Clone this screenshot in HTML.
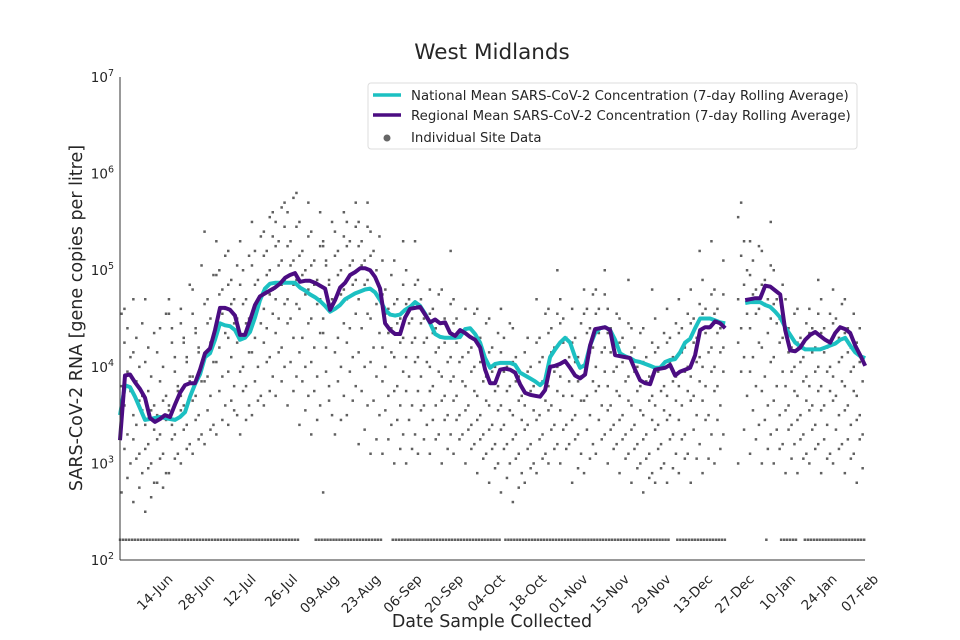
<!DOCTYPE html>
<html><head><meta charset="utf-8"><style>
html,body{margin:0;padding:0;background:#fff;}
svg{display:block;font-family:"DejaVu Sans","Liberation Sans",sans-serif;}
</style></head><body>
<svg id="chart" width="960" height="640" viewBox="0 0 960 640" xmlns="http://www.w3.org/2000/svg">
<rect width="960" height="640" fill="#fff"/>
<text x="492" y="59" text-anchor="middle" font-size="21.5" fill="#262626">West Midlands</text>
<text x="492" y="627" text-anchor="middle" font-size="17.5" fill="#262626">Date Sample Collected</text>
<text transform="translate(82,318) rotate(-90)" text-anchor="middle" font-size="17.5" fill="#262626">SARS-CoV-2 RNA [gene copies per litre]</text>
<g id="scatter"></g>
<g id="lines"></g>
<g id="axes"></g>
<g>
<rect x="368" y="83" width="489" height="66" rx="3" fill="#fff" fill-opacity="0.85" stroke="#ddd"/>
<line x1="373" y1="95" x2="401" y2="95" stroke="#1cc0c2" stroke-width="3.5"/>
<text x="411" y="100" font-size="13.3" fill="#262626">National Mean SARS-CoV-2 Concentration (7-day Rolling Average)</text>
<line x1="373" y1="115" x2="401" y2="115" stroke="#4b0c82" stroke-width="3.5"/>
<text x="411" y="120" font-size="13.3" fill="#262626">Regional Mean SARS-CoV-2 Concentration (7-day Rolling Average)</text>
<circle cx="387" cy="138" r="3.5" fill="#666"/>
<text x="411" y="142" font-size="13.3" fill="#262626">Individual Site Data</text>
</g>
</svg>
<script>
// ---- data ----
const tickLabels = ["14-Jun","28-Jun","12-Jul","26-Jul","09-Aug","23-Aug","06-Sep","20-Sep","04-Oct","18-Oct","01-Nov","15-Nov","29-Nov","13-Dec","27-Dec","10-Jan","24-Jan","07-Feb"];
const tickDays = [10,24,38,52,66,80,94,108,122,136,150,164,178,192,206,220,234,248];
const yTickExps = [2,3,4,5,6,7];
const sampleStart = 0;
const sampleStep = 1.687; // days between rolling-average samples
const regionalLog = [3.24,3.91,3.92,3.84,3.77,3.68,3.47,3.43,3.46,3.50,3.48,3.61,3.73,3.81,3.83,3.83,3.97,4.14,4.19,4.38,4.61,4.61,4.59,4.53,4.33,4.33,4.48,4.64,4.73,4.76,4.79,4.82,4.86,4.92,4.95,4.97,4.88,4.89,4.89,4.87,4.84,4.81,4.59,4.69,4.82,4.87,4.95,4.98,5.02,5.02,5.00,4.93,4.81,4.45,4.38,4.34,4.34,4.51,4.60,4.61,4.62,4.54,4.46,4.49,4.45,4.46,4.35,4.32,4.38,4.35,4.31,4.28,4.20,3.97,3.83,3.83,3.97,3.98,3.97,3.94,3.82,3.73,3.71,3.70,3.69,3.76,4.00,4.01,4.03,4.06,3.99,3.91,3.88,3.92,4.22,4.39,4.40,4.41,4.38,4.12,4.11,4.10,4.09,3.97,3.86,3.83,3.82,3.97,3.98,3.99,4.02,3.91,3.95,3.97,3.99,4.12,4.38,4.41,4.41,4.47,4.45,4.40,null,null,null,4.69,4.70,4.71,4.71,4.84,4.83,4.79,4.75,4.38,4.17,4.16,4.20,4.28,4.33,4.36,4.32,4.28,4.25,4.35,4.41,4.39,4.35,4.22,4.12,4.01];
const nationalLog = [3.50,3.81,3.79,3.69,3.57,3.45,3.46,3.47,3.48,3.47,3.46,3.45,3.48,3.53,3.69,3.82,3.92,4.10,4.14,4.28,4.45,4.43,4.42,4.38,4.28,4.30,4.36,4.51,4.69,4.81,4.86,4.87,4.87,4.87,4.87,4.87,4.82,4.79,4.75,4.72,4.68,4.63,4.57,4.60,4.64,4.70,4.73,4.76,4.78,4.80,4.81,4.77,4.69,4.59,4.54,4.53,4.54,4.59,4.62,4.67,4.63,4.55,4.45,4.34,4.31,4.30,4.30,4.30,4.31,4.39,4.40,4.34,4.25,4.09,3.99,4.03,4.04,4.04,4.04,4.02,3.94,3.91,3.88,3.85,3.81,3.86,4.10,4.18,4.25,4.30,4.25,4.10,3.99,4.02,4.22,4.35,4.40,4.41,4.38,4.28,4.14,4.11,4.09,4.06,4.05,4.03,4.01,3.99,3.99,4.05,4.07,4.08,4.15,4.25,4.29,4.40,4.50,4.50,4.50,4.48,4.46,4.45,null,null,null,4.66,4.67,4.67,4.67,4.64,4.62,4.57,4.51,4.41,4.33,4.25,4.21,4.18,4.18,4.18,4.18,4.20,4.22,4.24,4.28,4.30,4.22,4.15,4.11,4.09];
// individual site data: 4-day bins, values are log10 x 10
const siteBinStart = 0, siteBinDays = 4;
const siteBins = ["27 30 33 36 38 41 44 46","26 29 31 34 35 37 40 43 47","25 28 30 32 34 36 39 42 47","28 29 31 33 35 37 40 44","29 31 33 34 36 38 41 44 47","30 32 34 36 37 39 41 43 46","31 33 35 37 39 40 42 44 48","32 34 37 39 41 43 45 47 54","33 36 39 42 44 46 48 50 53","34 35 38 41 43 45 47 49 52","33 36 38 40 43 45 47 50 53","35 37 40 43 45 47 49 52 55","36 39 41 44 46 48 50 52 54 56","37 40 42 45 47 49 51 53 55 57","36 39 43 45 47 49 51 53 56 58","34 37 40 43 46 48 50 52 55 57","33 36 39 42 45 47 49 51 54 56","27 35 38 42 45 47 49 51 53 55","33 37 40 43 46 48 50 52 54 56","35 38 41 44 47 49 51 53 55 57","32 36 40 44 47 49 51 53 55 57","31 35 39 42 45 48 50 52 54","31 34 37 40 42 44 46 48 51","30 33 36 38 41 43 45 47 51 53","30 33 36 39 41 43 45 47 50 53","31 34 36 39 41 43 45 47 49","31 33 36 38 40 42 44 46 48","30 33 35 37 39 41 43 45 48 52","31 33 35 37 39 41 43 45 47","30 32 34 36 38 40 42 44 46","29 31 33 35 37 39 41 43 46","28 30 32 34 36 38 40 42 45","27 30 32 34 36 38 40 43 46","26 29 31 33 35 37 39 41 44","28 30 32 34 36 38 40 43","29 31 33 35 37 39 41 43 47","30 32 34 36 38 40 42 44 46 50","30 32 34 37 39 41 43 45 47","28 31 33 35 37 39 41 43 46","29 32 35 37 40 42 44 46 48","31 33 36 38 40 42 44 46 48 50","30 32 34 36 38 40 42 44 46","29 31 33 35 37 39 41 43 45 49","28 30 32 34 36 38 40 42 44","27 29 31 33 35 37 39 41 44 48","28 30 32 34 36 38 40 42 45","28 31 33 35 37 39 41 43 46","29 31 33 36 38 40 42 44 47","28 32 35 37 39 41 43 45 48 52","29 33 35 38 40 42 44 46 49 53","30 33 36 38 40 42 44 46 48 51","","30 37 41 44 47 50 53 57","31 34 38 41 44 46 48 51 53","30 33 36 39 42 45 47 49 52 55","30 32 35 38 41 43 45 47 50","29 32 34 36 38 40 42 44 47","29 31 33 35 37 39 41 43 46","30 32 34 36 38 40 42 44 46 49","29 31 34 36 38 40 42 44 47","30 32 35 37 39 41 43 45 48","29 31 34 36 38 40 42 44 47","28 31 33 35 37 39 41 44"];
const siteBins2 = ["28.5 31.5 34.5 37.5 39.5 42.5 45.5","27.5 30.5 32.5 35.5 36.5 38.5 41.5 44.5","26.5 29.5 31.5 33.5 35.5 37.5 40.5 43.5","27.5 30.5 32.5 34.5 36.5 38.5 41.5 45.5","30.5 32.5 35.5 37.5 39.5 42.5 45.5","31.5 33.5 35.5 38.5 40.5 42.5 44.5 48.5","32.5 34.5 36.5 38.5 41.5 43.5 45.5 50.5","33.5 35.5 38.5 40.5 42.5 44.5 46.5 49.5","34.5 37.5 40.5 43.5 45.5 47.5 49.5 51.5","35.5 36.5 39.5 42.5 44.5 46.5 48.5 50.5","34.5 37.5 39.5 41.5 44.5 46.5 48.5 51.5","36.5 38.5 41.5 44.5 46.5 48.5 50.5 53.5","37.5 40.5 42.5 45.5 47.5 49.5 51.5 53.5 55.5","38.5 41.5 43.5 46.5 48.5 50.5 52.5 54.5 56.5","37.5 40.5 44.5 46.5 48.5 50.5 52.5 54.5 57.5","35.5 38.5 41.5 44.5 47.5 49.5 51.5 53.5","34.5 37.5 40.5 43.5 46.5 48.5 50.5 52.5","36.5 39.5 43.5 46.5 48.5 50.5 52.5","34.5 38.5 41.5 44.5 47.5 49.5 51.5 53.5","36.5 39.5 42.5 45.5 48.5 50.5 52.5 54.5","33.5 37.5 41.5 45.5 48.5 50.5 52.5 54.5","32.5 36.5 40.5 43.5 46.5 49.5 51.5 53.5","32.5 35.5 38.5 41.5 43.5 45.5 47.5 49.5","31.5 34.5 37.5 39.5 42.5 44.5 46.5 48.5","31.5 34.5 37.5 40.5 42.5 44.5 46.5 48.5","32.5 35.5 37.5 40.5 42.5 44.5 46.5","32.5 34.5 37.5 39.5 41.5 43.5 45.5 47.5","31.5 34.5 36.5 38.5 40.5 42.5 44.5 46.5","32.5 34.5 36.5 38.5 40.5 42.5 44.5","31.5 33.5 35.5 37.5 39.5 41.5 43.5 45.5","30.5 32.5 34.5 36.5 38.5 40.5 42.5 44.5","29.5 31.5 33.5 35.5 37.5 39.5 41.5 43.5","28.5 31.5 33.5 35.5 37.5 39.5 41.5 44.5","27.5 30.5 32.5 34.5 36.5 38.5 40.5","29.5 31.5 33.5 35.5 37.5 39.5 41.5","30.5 32.5 34.5 36.5 38.5 40.5 42.5 45.5","31.5 33.5 35.5 37.5 39.5 41.5 43.5 45.5","31.5 33.5 35.5 38.5 40.5 42.5 44.5","29.5 32.5 34.5 36.5 38.5 40.5 42.5 44.5","30.5 33.5 36.5 38.5 41.5 43.5 45.5 47.5","32.5 34.5 37.5 39.5 41.5 43.5 45.5 47.5","31.5 33.5 35.5 37.5 39.5 41.5 43.5 45.5","30.5 32.5 34.5 36.5 38.5 40.5 42.5 44.5","29.5 31.5 33.5 35.5 37.5 39.5 41.5 43.5","28.5 30.5 32.5 34.5 36.5 38.5 40.5 42.5","29.5 31.5 33.5 35.5 37.5 39.5 41.5 43.5","29.5 32.5 34.5 36.5 38.5 40.5 42.5 44.5","30.5 32.5 34.5 37.5 39.5 41.5 43.5 45.5","30.5 33.5 36.5 38.5 40.5 42.5 44.5 46.5","30.5 34.5 36.5 39.5 41.5 43.5 45.5 47.5","31.5 34.5 37.5 39.5 41.5 43.5 45.5 47.5","","33.5 39.5 42.5 45.5 48.5 51.5 55.5","32.5 35.5 39.5 42.5 45.5 47.5 49.5 52.5","31.5 34.5 37.5 40.5 43.5 46.5 48.5 50.5","31.5 33.5 36.5 39.5 42.5 44.5 46.5 48.5","30.5 33.5 35.5 37.5 39.5 41.5 43.5 45.5","30.5 32.5 34.5 36.5 38.5 40.5 42.5 44.5","31.5 33.5 35.5 37.5 39.5 41.5 43.5 45.5","30.5 32.5 35.5 37.5 39.5 41.5 43.5 45.5","31.5 33.5 36.5 38.5 40.5 42.5 44.5 46.5","30.5 32.5 35.5 37.5 39.5 41.5 43.5 45.5","29.5 32.5 34.5 36.5 38.5 40.5 42.5"];
const lodLog = 2.21;
const lodRanges = [[0,60],[66,88],[92,128],[130,185],[188,204],[218,218],[223,228],[231,251]];

// ---- scales ----
const X0 = 120, X1 = 865, Y0 = 560, Y1 = 77;
const dayMax = 251.3;
function xScale(d){ return X0 + (X1 - X0) * d / dayMax; }
function yScale(l){ return Y0 - (Y0 - Y1) * (l - 2) / 5; }
const NS = "http://www.w3.org/2000/svg";
function mk(tag, attrs, parent){ const e = document.createElementNS(NS, tag); for (const k in attrs) e.setAttribute(k, attrs[k]); parent.appendChild(e); return e; }

// scatter
const sg = document.getElementById('scatter');
let pts = [];
function addBins(bins, offs){
  bins.forEach((s, b) => {
    if (!s) return;
    s.split(' ').forEach((v, j) => {
      const d = siteBinStart + b * siteBinDays + ((j * 3 + offs) % 4) + 0.5;
      if (d > dayMax) return;
      pts.push([xScale(d), yScale(+v / 10)]);
    });
  });
}
addBins(siteBins, 0);
addBins(siteBins2, 2);
lodRanges.forEach(r => { for (let d = r[0]; d <= r[1]; d += 1) pts.push([xScale(d), yScale(lodLog)]); });
pts.forEach(p => {
  const c = mk('rect', {x: (p[0] - 1.2).toFixed(1), y: (p[1] - 1.2).toFixed(1), width: 2.5, height: 2.5, fill: '#606060'}, sg);
  
  
});

// lines
const lg = document.getElementById('lines');
function pathFor(arr){
  let d = '', pen = false;
  arr.forEach((v, i) => {
    if (v === null) { pen = false; return; }
    const x = xScale(sampleStart + i * sampleStep), y = yScale(v);
    d += (pen ? 'L' : 'M') + x.toFixed(1) + ',' + y.toFixed(1);
    pen = true;
  });
  return d;
}
const nl = mk('path', {d: pathFor(nationalLog), fill: 'none', stroke: '#1cc0c2', 'stroke-width': 4, 'stroke-linejoin': 'round'}, lg);


const rl = mk('path', {d: pathFor(regionalLog), fill: 'none', stroke: '#4b0c82', 'stroke-width': 4, 'stroke-linejoin': 'round'}, lg);



// axes
const ag = document.getElementById('axes');
mk('line', {x1: X0, y1: Y1, x2: X0, y2: Y0, stroke: '#333', 'stroke-width': 1}, ag);
mk('line', {x1: X0, y1: Y0, x2: X1, y2: Y0, stroke: '#333', 'stroke-width': 1}, ag);
yTickExps.forEach(e => {
  const t = mk('text', {x: 114, y: yScale(e) + 5, 'text-anchor': 'end', 'font-size': 13.5, fill: '#262626'}, ag);
  
  
  t.textContent = '10';
  const s = mk('tspan', {dy: -6, 'font-size': 9.5}, t);
  s.textContent = String(e);
});
tickLabels.forEach((lab, i) => {
  const x = xScale(tickDays[i]);
  const t = mk('text', {transform: 'translate(' + (x + 24).toFixed(1) + ',580) rotate(-45)', 'text-anchor': 'end', 'font-size': 13.5, fill: '#262626'}, ag);
  
  
  t.textContent = lab;
});
</script>
</body></html>
